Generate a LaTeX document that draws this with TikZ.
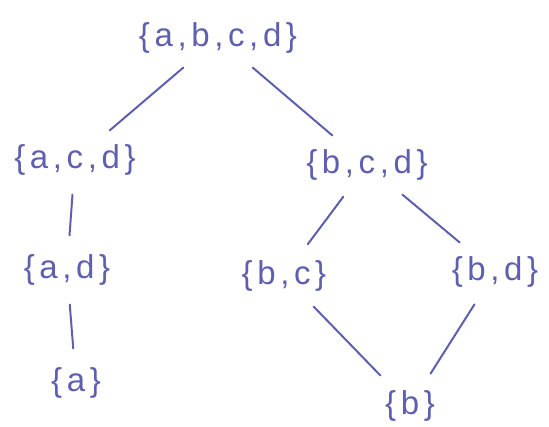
\documentclass[tikz,border=0pt]{standalone}
\usepackage{fontspec}
\setmainfont{Liberation Sans}[LetterSpace=14]
\definecolor{ink}{RGB}{95,95,175}
\tikzset{
  set/.style={text=ink,font=\fontsize{33}{35}\selectfont,inner sep=5pt},
  cover/.style={draw=ink,line width=2pt,line cap=round,shorten <=14pt,shorten >=14pt}
}
\begin{document}
\begin{tikzpicture}[x=1pt,y=1pt,yscale=-1,xscale=1]
\useasboundingbox (0,0) rectangle (549,426);

%Nodes: subsets
\node [set] (abcd) at (218,38) {\{a,b,c,d\}};
\node [set] (acd) at (75,160) {\{a,c,d\}};
\node [set] (bcd) at (367,165) {\{b,c,d\}};
\node [set] (ad) at (67,270) {\{a,d\}};
\node [set] (bc) at (284,276) {\{b,c\}};
\node [set] (bd) at (495,272) {\{b,d\}};
\node [set] (a) at (76,383) {\{a\}};
\node [set] (b) at (410,406) {\{b\}};

%Lines: cover relation
\draw [cover] (abcd) -- (acd);
\draw [cover] (abcd) -- (bcd);
\draw [cover] (acd) -- (ad);
\draw [cover] (ad) -- (a);
\draw [cover] (bcd) -- (bc);
\draw [cover] (bcd) -- (bd);
\draw [cover] (bc) -- (b);
\draw [cover] (bd) -- (b);

\end{tikzpicture}
\end{document}
